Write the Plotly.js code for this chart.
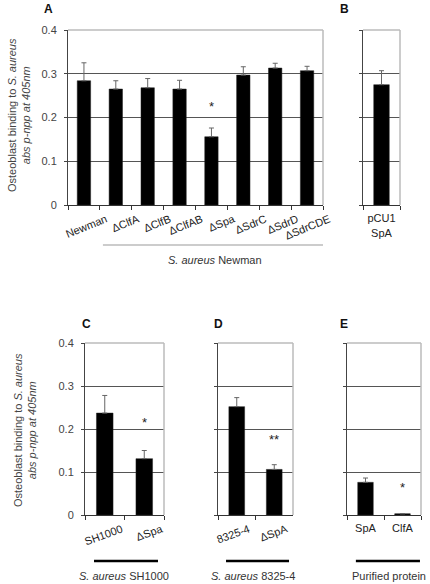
<!DOCTYPE html>
<html>
<head>
<meta charset="utf-8">
<script src="https://cdn.plot.ly/plotly-3.0.1.min.js"></script>
<style>
html,body{margin:0;padding:0;background:#fff;}
#chart{width:430px;height:584px;}
</style>
</head>
<body>
<div id="chart"></div>
<script>
// ---- data ----
const catsA = ['Newman','ΔClfA','ΔClfB','ΔClfAB','ΔSpa','ΔSdrC','ΔSdrD','ΔSdrCDE'];
const valsA = [0.284,0.265,0.268,0.265,0.156,0.297,0.313,0.307];
const errA  = [0.041,0.019,0.021,0.020,0.020,0.019,0.011,0.010];

const catsB = ['pCU1<br>SpA'];
const valsB = [0.275];
const errB  = [0.032];

const catsC = ['SH1000','ΔSpa'];
const valsC = [0.237,0.131];
const errC  = [0.041,0.019];

const catsD = ['8325-4','ΔSpA'];
const valsD = [0.252,0.106];
const errD  = [0.021,0.011];

const catsE = ['SpA','ClfA'];
const valsE = [0.076,0.003];
const errE  = [0.010,0.0];

const yTicks = [0,0.1,0.2,0.3,0.4];
const yTickText = ['0','0.1','0.2','0.3','0.4'];

const starsA = [{cat:'ΔSpa', text:'*'}];
const starsC = [{cat:'ΔSpa', text:'*'}];
const starsD = [{cat:'ΔSpA', text:'**'}];
const starsE = [{cat:'ClfA', text:'*'}];

// ---- layout helpers ----
const W = 430, H = 584;
const FONT = 'Liberation Sans, Arial, sans-serif';
function xd(a,b){return [a/W, b/W];}
function yd(bottom, top){return [(H-bottom)/H, (H-top)/H];}

function barTrace(cats, vals, errs, xa, ya){
  return {
    type:'bar', x:cats, y:vals, xaxis:xa, yaxis:ya, width:0.42,
    marker:{color:'#000', line:{color:'#222', width:0.5}},
    error_y:{type:'data', symmetric:false, array:errs, arrayminus:errs.map(()=>0),
             color:'#666', thickness:1, width:2.5},
    showlegend:false, hoverinfo:'skip'
  };
}

const data = [
  barTrace(catsA, valsA, errA, 'x', 'y'),
  barTrace(catsB, valsB, errB, 'x2', 'y2'),
  barTrace(catsC, valsC, errC, 'x3', 'y3'),
  barTrace(catsD, valsD, errD, 'x4', 'y4'),
  barTrace(catsE, valsE, errE, 'x5', 'y5')
];

function xaxis(domain, anchor, angle, shift){
  return {
    domain:domain, anchor:anchor, type:'category',
    showline:true, linecolor:'#333', linewidth:1,
    ticks:'outside', ticklen:4, tickcolor:'#333', tickson:'boundaries',
    tickangle:angle, ticklabelshift:shift, ticklabelstandoff:3,
    tickfont:{family:FONT, size:11, color:'#222'},
    showgrid:false, zeroline:false, fixedrange:true, automargin:false
  };
}
function yaxis(domain, anchor, labels){
  return {
    domain:domain, anchor:anchor, range:[0,0.4],
    tickvals:yTicks, ticktext:yTickText, showticklabels:labels,
    ticks:'outside', ticklen:3, tickcolor:'#444', ticklabelstandoff:5,
    tickfont:{family:FONT, size:11, color:'#444'},
    showline:true, linecolor:'#444', linewidth:1,
    showgrid:true, gridcolor:'#555', gridwidth:1,
    zeroline:false, fixedrange:true, automargin:false
  };
}

const yTop = yd(205,30);
const yBot = yd(515,343);

const layout = {
  width:W, height:H, margin:{l:0,r:0,t:0,b:0},
  paper_bgcolor:'#fff', plot_bgcolor:'#fff',
  font:{family:FONT, size:11, color:'#333'},
  xaxis:  xaxis(xd(68,323),  'y',  -22, 22),
  yaxis:  yaxis(yTop, 'x', true),
  xaxis2: xaxis(xd(363,400), 'y2', 0, 0),
  yaxis2: yaxis(yTop, 'x2', false),
  xaxis3: xaxis(xd(85,164),  'y3', -20, 17),
  yaxis3: yaxis(yBot, 'x3', true),
  xaxis4: xaxis(xd(218,293), 'y4', -20, 12),
  yaxis4: yaxis(yBot, 'x4', false),
  xaxis5: xaxis(xd(347,421), 'y5', 0, 0),
  yaxis5: yaxis(yBot, 'x5', false),
  shapes:[], annotations:[]
};

['', '2','3','4','5'].forEach(s=>{
  const xr = 'x'+s+' domain', yr = 'y'+s+' domain';
  layout.shapes.push({type:'line', xref:xr, yref:yr, x0:0, x1:1, y0:1, y1:1, line:{color:'#bbb', width:1.5}, layer:'above'});
  layout.shapes.push({type:'line', xref:xr, yref:yr, x0:1, x1:1, y0:0, y1:1, line:{color:'#bbb', width:1.5}, layer:'above'});
});

layout.shapes.push({type:'line', xref:'x domain', yref:'paper', x0:0.137, x1:1.0, y0:(H-245)/H, y1:(H-245)/H, line:{color:'#999', width:1}});
layout.shapes.push({type:'line', xref:'x3 domain', yref:'paper', x0:0.114, x1:0.924, y0:(H-561)/H, y1:(H-561)/H, line:{color:'#000', width:2.5}});
layout.shapes.push({type:'line', xref:'x4 domain', yref:'paper', x0:0.107, x1:0.947, y0:(H-561)/H, y1:(H-561)/H, line:{color:'#000', width:2.5}});
layout.shapes.push({type:'line', xref:'x5 domain', yref:'paper', x0:0.12, x1:0.986, y0:(H-561)/H, y1:(H-561)/H, line:{color:'#000', width:2.5}});

function ann(text, x, y, opts){
  return Object.assign({text:text, xref:'paper', yref:'paper', x:x/W, y:(H-y)/H,
    showarrow:false, xanchor:'center', yanchor:'middle',
    font:{family:FONT, size:11, color:'#333'}}, opts||{});
}

layout.annotations.push(ann('<i>S. aureus</i> Newman', 215, 260));
layout.annotations.push(ann('<i>S. aureus</i> SH1000', 124, 576));
layout.annotations.push(ann('<i>S. aureus</i> 8325-4', 253, 576));
layout.annotations.push(ann('Purified protein', 389, 576));

const bold = {family:FONT, size:12, color:'#111', weight:'bold'};
layout.annotations.push(ann('<b>A</b>', 48, 9, {font:bold}));
layout.annotations.push(ann('<b>B</b>', 344, 9, {font:bold}));
layout.annotations.push(ann('<b>C</b>', 86, 324, {font:bold}));
layout.annotations.push(ann('<b>D</b>', 218, 324, {font:bold}));
layout.annotations.push(ann('<b>E</b>', 344, 324, {font:bold}));

const ytitle = 'Osteoblast binding to <i>S. aureus</i><br><i>abs p-npp at 405nm</i>';
layout.annotations.push(ann(ytitle, 19, 115, {textangle:-90, font:{family:FONT, size:11, color:'#444'}}));
layout.annotations.push(ann(ytitle, 25, 430, {textangle:-90, font:{family:FONT, size:11, color:'#444'}}));

function addStars(list, cats, vals, errs, xa, ya, shift){
  list.forEach(s=>{
    const i = cats.indexOf(s.cat);
    layout.annotations.push({text:s.text, xref:xa, yref:ya, x:s.cat, y:vals[i]+errs[i],
      yanchor:'bottom', yshift:shift, showarrow:false,
      font:{family:FONT, size:13, color:'#222'}});
  });
}
addStars(starsA, catsA, valsA, errA, 'x', 'y', 12);
addStars(starsC, catsC, valsC, errC, 'x3', 'y3', 19);
addStars(starsD, catsD, valsD, errD, 'x4', 'y4', 16);
addStars(starsE, catsE, valsE, errE, 'x5', 'y5', 17);

Plotly.newPlot('chart', data, layout, {staticPlot:true, displayModeBar:false});
</script>
</body>
</html>
